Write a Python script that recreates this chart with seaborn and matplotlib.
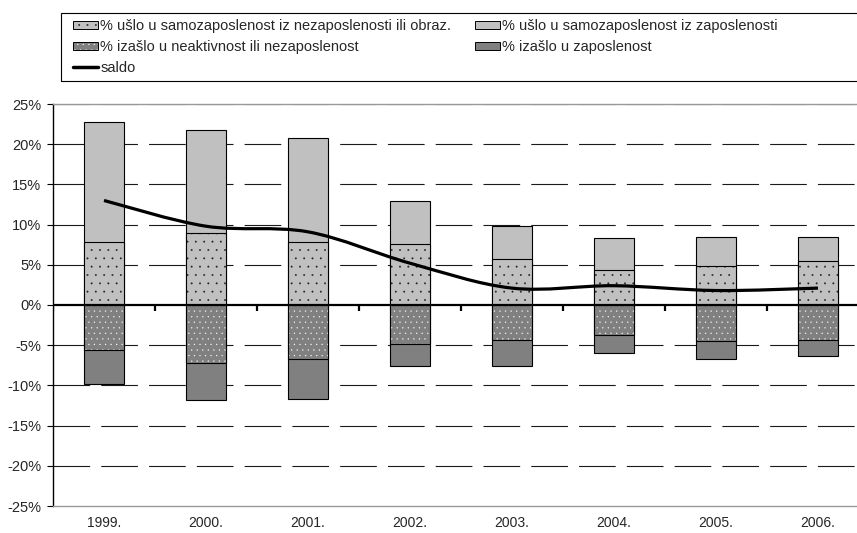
import numpy as np
import pandas as pd
import matplotlib
matplotlib.use('Agg')
import matplotlib.pyplot as plt
import matplotlib.colors as mcolors
import seaborn as sns
from matplotlib.path import Path
from matplotlib.patches import PathPatch, Patch, Rectangle
from matplotlib.lines import Line2D

# data (percent)
years = ['1999.', '2000.', '2001.', '2002.', '2003.', '2004.', '2005.', '2006.']
in_from_unemp = [7.8, 9.0, 7.8, 7.6, 5.7, 4.4, 4.8, 5.5]
in_from_emp = [15.0, 12.8, 13.0, 5.3, 4.1, 3.9, 3.6, 2.9]
out_to_inact = [-5.6, -7.2, -6.7, -4.8, -4.4, -3.7, -4.5, -4.3]
out_to_emp = [-4.2, -4.6, -5.0, -2.8, -3.2, -2.3, -2.2, -2.0]
saldo = [13.0, 9.8, 9.1, 5.2, 2.1, 2.4, 1.8, 2.1]

labels = ['% ušlo u samozaposlenost iz nezaposlenosti ili obraz.',
          '% ušlo u samozaposlenost iz zaposlenosti',
          '% izašlo u neaktivnost ili nezaposlenost',
          '% izašlo u zaposlenost',
          'saldo']

sns.set_style('white')
plt.rcParams['font.family'] = ['Liberation Sans', 'DejaVu Sans']
plt.rcParams['hatch.linewidth'] = 0.15

df = pd.DataFrame({'year': years,
                   'a': in_from_unemp, 'b': in_from_emp,
                   'c': out_to_inact, 'd': out_to_emp})
df['pos_total'] = df['a'] + df['b']
df['neg_total'] = df['c'] + df['d']

W, H = 857, 533
fig = plt.figure(figsize=(W / 100, H / 100), dpi=100)
ax = fig.add_axes([53 / W, 1 - 506 / H, 816 / W, 402 / H])

light = '#C0C0C0'
dark = '#808080'
bw = 0.4


def set_hatch_color(p, c):
    # no public hatch colour setter in this matplotlib
    if hasattr(p, 'set_hatchcolor'):
        p.set_hatchcolor(c)
    else:
        p._hatch_color = mcolors.to_rgba(c)


def bars(col, color, z, hatch=None, hatch_color=None):
    n0 = len(ax.patches)
    sns.barplot(data=df, x='year', y=col, color=color, saturation=1,
                width=bw, edgecolor='black', linewidth=0.8, ax=ax, zorder=z)
    for p in ax.patches[n0:]:
        p.set_facecolor(color)
        p.set_edgecolor('black')
        if hatch:
            p.set_hatch(hatch)
            set_hatch_color(p, hatch_color)


# gridlines first
for v in np.arange(-20, 26, 5):
    if v == 0:
        continue
    ax.axhline(v, color='#1a1a1a', lw=0.8, dashes=(33, 10), zorder=0)

# stacked bars: totals first, then the inner (dotted) segment on top
bars('pos_total', light, 2)
bars('neg_total', dark, 2)
bars('a', light, 3, hatch='..', hatch_color='#202020')
bars('c', dark, 3, hatch='...', hatch_color='white')

# smoothed saldo line (Catmull-Rom as bezier segments)
xs = np.arange(len(saldo), dtype=float)
ys = np.array(saldo, dtype=float)
px = np.concatenate([[xs[0]], xs, [xs[-1]]])
py = np.concatenate([[ys[0]], ys, [ys[-1]]])
verts = [(xs[0], ys[0])]
codes = [Path.MOVETO]
for i in range(1, len(px) - 2):
    c1 = (px[i] + (px[i + 1] - px[i - 1]) / 6, py[i] + (py[i + 1] - py[i - 1]) / 6)
    c2 = (px[i + 1] - (px[i + 2] - px[i]) / 6, py[i + 1] - (py[i + 2] - py[i]) / 6)
    verts += [c1, c2, (px[i + 1], py[i + 1])]
    codes += [Path.CURVE4] * 3
ax.add_patch(PathPatch(Path(verts, codes), facecolor='none', edgecolor='black',
                       lw=2.3, capstyle='butt', zorder=6))

# zero line with category tick marks
ax.axhline(0, color='black', lw=1.6, zorder=5)
ax.vlines(np.arange(len(years) + 1) - 0.5, -0.7, 0.1, color='black', lw=1.6, zorder=5)

ax.set_xlim(-0.5, len(years) - 0.5)
ax.set_ylim(-25, 25)
ax.set_yticks(np.arange(-25, 26, 5))
ax.set_yticklabels([f'{v}%' for v in range(-25, 26, 5)], fontsize=10.5)
ax.tick_params(axis='y', length=4, width=0.8, color='black', pad=4.5, left=True)
ax.tick_params(axis='x', length=0, pad=7.5, labelsize=10)
ax.set_xlabel('')
ax.set_ylabel('')

ax.spines['right'].set_visible(False)
ax.spines['left'].set_color('black')
ax.spines['left'].set_linewidth(1.0)
for s in ['top', 'bottom']:
    ax.spines[s].set_color('#999999')
    ax.spines[s].set_linewidth(1.0)

# legend with an external frame running off the right edge
h_dot_light = Patch(facecolor=light, edgecolor='black', hatch='..', lw=0.7)
set_hatch_color(h_dot_light, '#202020')
h_dot_dark = Patch(facecolor=dark, edgecolor='black', hatch='...', lw=0.7)
set_hatch_color(h_dot_dark, 'white')
handles = [h_dot_light, h_dot_dark,
           Line2D([], [], color='black', lw=2.5),
           Patch(facecolor=light, edgecolor='black', lw=0.7),
           Patch(facecolor=dark, edgecolor='black', lw=0.7)]
order = [labels[0], labels[2], labels[4], labels[1], labels[3]]
fig.legend(handles, order, loc='upper left', bbox_to_anchor=(73 / W, 1 - 19 / H),
           ncol=2, frameon=False, fontsize=10.5, handlelength=1.71, handleheight=0.5,
           handletextpad=0.15, labelspacing=0.47, columnspacing=1.65,
           borderaxespad=0, borderpad=0)
fig.patches.append(Rectangle((61 / W, 1 - 81 / H), 840 / W, 68 / H, transform=fig.transFigure,
                             facecolor='none', edgecolor='black', lw=0.8))

fig.savefig('out.png', dpi=100)
